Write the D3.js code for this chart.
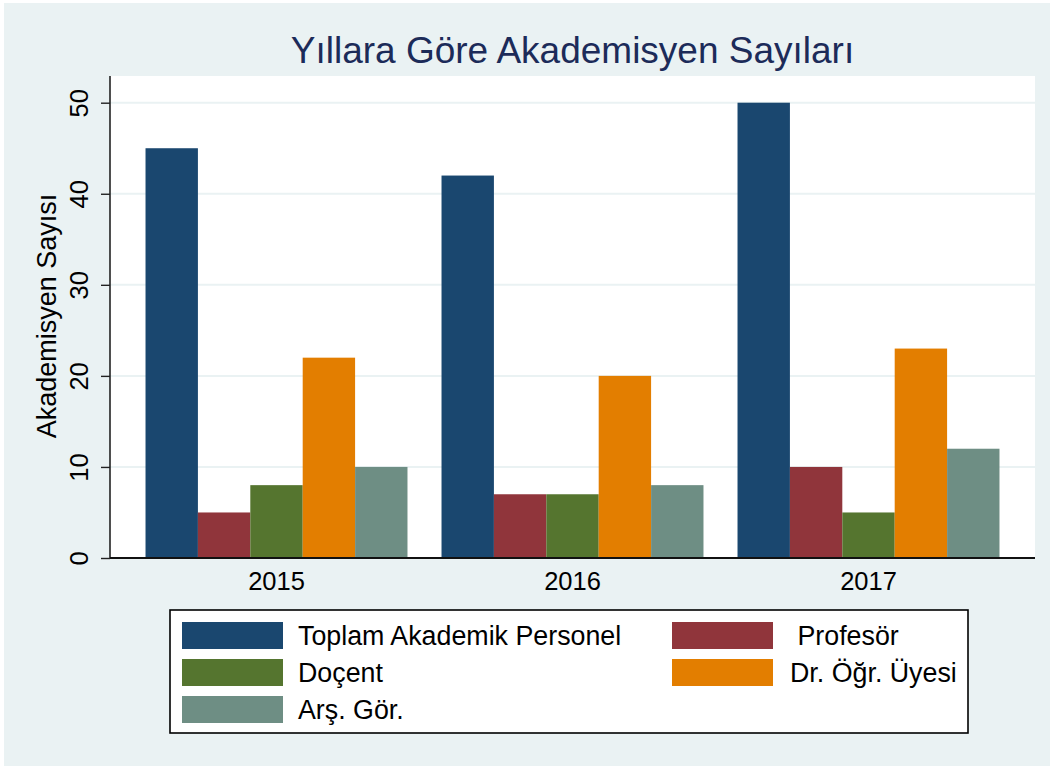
<!DOCTYPE html>
<html>
<head>
<meta charset="utf-8">
<script src="https://cdn.jsdelivr.net/npm/d3@7"></script>
<style>
  html, body { margin: 0; padding: 0; background: #ffffff; }
  svg { display: block; font-family: "Liberation Sans", Arial, Helvetica, sans-serif; }
</style>
</head>
<body>
<svg id="chart" width="1050" height="768"></svg>
<script>
const years = ["2015", "2016", "2017"];
const seriesNames = ["Toplam Akademik Personel", " Profesör", "Doçent", "Dr. Öğr. Üyesi", "Arş. Gör."];
const toplam = [45, 42, 50];
const profesor = [5, 7, 10];
const docent = [8, 7, 5];
const drOgrUyesi = [22, 20, 23];
const arsGor = [10, 8, 12];
const yTicks = [0, 10, 20, 30, 40, 50];
const colors = ["#1a476f", "#90353b", "#55752f", "#e37e00", "#6e8e84"];

const seriesValues = [toplam, profesor, docent, drOgrUyesi, arsGor];

const svg = d3.select("#chart");
const W = 1050, H = 768;
const plot = { left: 110, right: 1035, top: 76, bottom: 558 };

// outer background
svg.append("rect").attr("x", 0).attr("y", 0).attr("width", W).attr("height", H).attr("fill", "#ffffff");
svg.append("rect").attr("x", 4).attr("y", 3).attr("width", W - 4).attr("height", H - 5).attr("fill", "#eaf2f3");
// plot region
svg.append("rect").attr("x", plot.left).attr("y", plot.top)
  .attr("width", plot.right - plot.left).attr("height", plot.bottom - plot.top).attr("fill", "#ffffff");

const y = d3.scaleLinear().domain([0, 50]).range([558, 102.7]);
const x0 = d3.scaleBand().domain(years).range([plot.left, plot.right]).paddingInner(0.115).paddingOuter(0.12);
const x1 = d3.scaleBand().domain(d3.range(seriesNames.length)).range([0, x0.bandwidth()]).padding(0);

// gridlines
svg.append("g").selectAll("line").data(yTicks.filter(t => t > 0)).join("line")
  .attr("x1", plot.left).attr("x2", plot.right)
  .attr("y1", d => y(d)).attr("y2", d => y(d))
  .attr("stroke", "#eaf2f3").attr("stroke-width", 2);

// bars
const groups = svg.append("g").selectAll("g").data(years).join("g")
  .attr("transform", d => `translate(${x0(d)},0)`);
groups.selectAll("rect").data((d, i) => seriesValues.map((s, k) => ({ k, v: s[i] }))).join("rect")
  .attr("x", d => x1(d.k)).attr("width", x1.bandwidth())
  .attr("y", d => y(d.v)).attr("height", d => y(0) - y(d.v))
  .attr("fill", d => colors[d.k]);

// y axis
const yAxis = d3.axisLeft(y).tickValues(yTicks).tickSize(9).tickPadding(6).tickFormat(d3.format("d"));
const gy = svg.append("g").attr("transform", `translate(${plot.left},0)`).call(yAxis);
gy.select(".domain").attr("stroke", "#222").attr("stroke-width", 1.6)
  .attr("d", `M0,${plot.top}V${plot.bottom}`);
gy.selectAll(".tick line").attr("stroke", "#222").attr("stroke-width", 1.4);
gy.selectAll(".tick text")
  .attr("x", null).attr("dy", null)
  .attr("text-anchor", "middle")
  .attr("transform", "translate(-22,0) rotate(-90)")
  .attr("font-size", 25.5).attr("fill", "#000")
  .attr("font-family", "Liberation Sans, Arial, sans-serif");

// x axis
const xAxis = d3.axisBottom(x0).tickSize(0).tickPadding(0);
const gx = svg.append("g").attr("transform", `translate(0,${plot.bottom})`).call(xAxis);
gx.select(".domain").attr("stroke", "#111").attr("stroke-width", 2)
  .attr("d", `M${plot.left},0H${plot.right}`);
gx.selectAll(".tick text").attr("y", 32).attr("dy", null)
  .attr("font-size", 25.5).attr("fill", "#000")
  .attr("font-family", "Liberation Sans, Arial, sans-serif");

// y axis title
svg.append("text").attr("transform", "translate(56,316) rotate(-90)")
  .attr("text-anchor", "middle").attr("font-size", 27).attr("fill", "#000")
  .text("Akademisyen Sayısı");

// title
svg.append("text").attr("x", (plot.left + plot.right) / 2).attr("y", 63)
  .attr("text-anchor", "middle").attr("font-size", 37).attr("fill", "#1c2b59")
  .text("Yıllara Göre Akademisyen Sayıları");

// legend
const legend = svg.append("g");
legend.append("rect").attr("x", 170).attr("y", 610).attr("width", 798).attr("height", 123)
  .attr("fill", "#ffffff").attr("stroke", "#000").attr("stroke-width", 1.6);
const colSwatchX = [182, 672], colTextX = [298, 790];
const rowY = [622, 659, 696];
const items = legend.selectAll("g.item").data(seriesNames.map((n, k) => ({ n, k }))).join("g").attr("class", "item")
  .attr("transform", d => `translate(0,${rowY[Math.floor(d.k / 2)]})`);
items.append("rect").attr("x", d => colSwatchX[d.k % 2]).attr("y", 0)
  .attr("width", 101).attr("height", 27).attr("fill", d => colors[d.k]);
items.append("text").attr("x", d => colTextX[d.k % 2]).attr("y", 23)
  .attr("font-size", 26.8).attr("fill", "#000").style("white-space", "pre")
  .text(d => d.n);
</script>
</body>
</html>
